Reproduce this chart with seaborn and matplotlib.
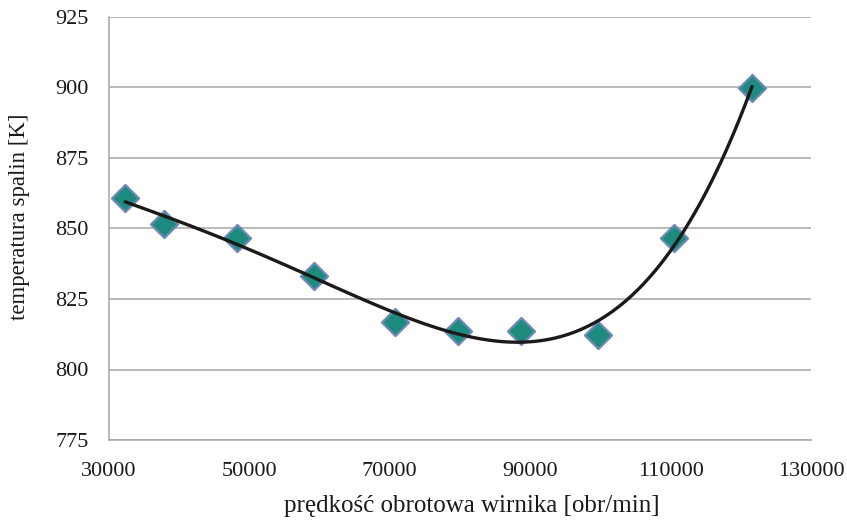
import matplotlib
matplotlib.use("Agg")
import matplotlib.pyplot as plt
import seaborn as sns
import pandas as pd

speed = [32300, 37800, 48200, 59200, 70700, 79700, 88700, 99700, 110500, 121600]
temp = [860.8, 851.6, 846.6, 833.2, 816.8, 813.6, 813.6, 812.3, 846.6, 899.8]
x_ticks = [30000, 50000, 70000, 90000, 110000, 130000]
y_ticks = [775, 800, 825, 850, 875, 900, 925]

df = pd.DataFrame({"speed": speed, "temp": temp})

sns.set_theme(style="white")
plt.rcParams["font.family"] = ["Liberation Serif", "DejaVu Serif"]

fig = plt.figure(figsize=(8.47, 5.31), dpi=100)
ax = fig.add_axes([109/847, 1-440/531, (811-109)/847, (440-17)/531])

for y in y_ticks:
    ax.axhline(y, color="#a6a6a6", lw=1.1, zorder=0)

sns.scatterplot(data=df, x="speed", y="temp", marker="D", s=190,
                color="#1d8c7e", edgecolor="#7088b8", linewidth=1.6,
                ax=ax, zorder=3)
sns.regplot(data=df, x="speed", y="temp", order=4, ci=None, scatter=False,
            truncate=True, line_kws=dict(color="#1a1a1a", lw=2.4, zorder=4), ax=ax)

ax.set_xlim(30000, 130000)
ax.set_ylim(775, 925)
ax.set_xticks(x_ticks)
ax.set_yticks(y_ticks)
ax.tick_params(axis="both", labelsize=16, colors="#a6a6a6", labelcolor="#1a1a1a",
               width=1.1, direction="out")
ax.tick_params(axis="x", length=7, pad=9)
ax.tick_params(axis="y", length=8, pad=6.5)
for s in ["top", "right"]:
    ax.spines[s].set_visible(False)
for s in ["left", "bottom"]:
    ax.spines[s].set_color("#a6a6a6")
    ax.spines[s].set_linewidth(1.1)

ax.set_xlabel("prędkość obrotowa wirnika [obr/min]", fontsize=18, color="#1a1a1a", va="center")
ax.set_ylabel("temperatura spalin [K]", fontsize=16.4, color="#1a1a1a", va="center")
ax.xaxis.set_label_coords((472-109)/702, (440-506)/423)
ax.yaxis.set_label_coords((20-109)/702, (440-217)/423)

fig.savefig("out.png", dpi=100)
